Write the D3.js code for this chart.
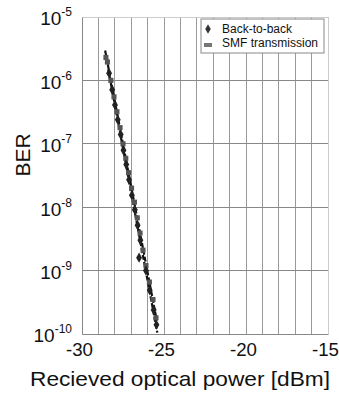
<!DOCTYPE html>
<html>
<head>
<meta charset="utf-8">
<script src="https://cdn.jsdelivr.net/npm/d3@7"></script>
<style>
  body { margin: 0; background: #fff; }
  svg { display: block; font-family: "Liberation Sans", Arial, sans-serif; }
</style>
</head>
<body>
<script>
// received power [dBm] and BER
const b2bPower = [-28.35, -28.16, -27.99, -27.82, -27.64, -27.47, -27.30, -27.13, -26.96, -26.78, -26.61, -26.44, -26.52, -26.10, -25.87, -25.63, -25.46]
const b2bBer = [1.3e-6, 7.1e-7, 4.1e-7, 2.4e-7, 1.4e-7, 7.9e-8, 4.7e-8, 2.7e-8, 1.55e-8, 9.1e-9, 5.2e-9, 3.0e-9, 1.6e-9, 1.0e-9, 4.9e-10, 2.4e-10, 1.4e-10]
const smfPower = [-28.54, -28.45, -28.24, -28.05, -27.87, -27.68, -27.50, -27.33, -27.16, -26.98, -26.80, -26.63, -26.46, -26.28, -26.10, -25.89, -25.67, -25.49]
const smfBer = [2.3e-6, 1.95e-6, 1.0e-6, 5.5e-7, 3.2e-7, 1.8e-7, 1.0e-7, 5.9e-8, 3.5e-8, 2.0e-8, 1.2e-8, 6.8e-9, 3.9e-9, 2.1e-9, 1.2e-9, 6.6e-10, 3.5e-10, 1.8e-10]

const xTicks = [-30, -25, -20, -15]
const yExponents = [-5, -6, -7, -8, -9, -10]
const legendLabels = ['Back-to-back', 'SMF transmission']

const width = 339, height = 396
const margin = {top: 17, right: 11, bottom: 62, left: 82}

const svg = d3.select('body').append('svg')
    .attr('width', width)
    .attr('height', height)

const x = d3.scaleLinear().domain([-30, -15]).range([margin.left, width - margin.right])
const y = d3.scaleLog().domain([1e-10, 1e-5]).range([height - margin.bottom, margin.top])

// grid
const grid = svg.append('g').attr('stroke-width', 1).attr('shape-rendering', 'crispEdges')
grid.selectAll('line.v')
    .data(d3.range(-29, -14))
    .join('line')
    .attr('class', 'v')
    .attr('stroke', d => d === -15 ? '#ccc' : '#999')
    .attr('x1', d => x(d)).attr('x2', d => x(d))
    .attr('y1', y(1e-5)).attr('y2', y(1e-10))
grid.selectAll('line.h')
    .data(yExponents.slice(1, -1))
    .join('line')
    .attr('class', 'h')
    .attr('stroke', '#888')
    .attr('x1', x(-30)).attr('x2', x(-15))
    .attr('y1', d => y(Math.pow(10, d))).attr('y2', d => y(Math.pow(10, d)))
svg.append('line')
    .attr('x1', x(-30)).attr('x2', x(-15))
    .attr('y1', y(1e-5)).attr('y2', y(1e-5))
    .attr('stroke', '#ccc').attr('shape-rendering', 'crispEdges')

// axes
const xAxis = svg.append('g')
    .attr('transform', `translate(0,${y(1e-10)})`)
    .call(d3.axisBottom(x).tickValues(xTicks).tickSize(0).tickPadding(8).tickFormat(d => String(d)))
xAxis.select('.domain').attr('stroke', '#888')
xAxis.selectAll('text')
    .attr('font-size', 18)
    .attr('fill', '#111')
    .attr('dx', -3)
    .attr('dy', '0.78em')
    .attr('textLength', 27)
    .attr('lengthAdjust', 'spacingAndGlyphs')

const yAxis = svg.append('g')
    .attr('transform', `translate(${x(-30)},0)`)
    .call(d3.axisLeft(y).tickValues(yExponents.map(e => Math.pow(10, e))).tickSize(0).tickFormat(() => ''))
yAxis.select('.domain').attr('stroke', '#888')
yAxis.selectAll('.tick').each(function (d) {
    const t = d3.select(this).append('text')
        .attr('x', -10).attr('dy', '0.42em')
        .attr('text-anchor', 'end')
        .attr('fill', '#111')
        .attr('font-size', 19)
    t.append('tspan').text('10')
    t.append('tspan').attr('font-size', 12).attr('dy', '-0.75em').text(Math.round(Math.log10(d)))
})

// fit lines (least squares in log domain)
function fit(px, py) {
    const ly = py.map(Math.log10)
    const mx = d3.mean(px), my = d3.mean(ly)
    const k = d3.sum(px, (v, i) => (v - mx) * (ly[i] - my)) / d3.sum(px, v => (v - mx) ** 2)
    return v => Math.pow(10, my + k * (v - mx))
}
const line = d3.line().x(d => x(d[0])).y(d => y(d[1]))
;[[smfPower, smfBer], [b2bPower, b2bBer]].forEach(([px, py]) => {
    const f = fit(px, py)
    const ends = [d3.min(px) - 0.05, d3.max(px) + 0.05]
    svg.append('path')
        .attr('d', line(ends.map(v => [v, f(v)])))
        .attr('fill', 'none')
        .attr('stroke', '#111')
        .attr('stroke-width', 2.2)
        .attr('stroke-dasharray', '5,2')
})

// markers
const square = d3.symbol(d3.symbolSquare, 26)
const diamond = d3.symbol(d3.symbolDiamond, 30)
svg.append('g').selectAll('path')
    .data(smfPower.map((p, i) => [p, smfBer[i]]))
    .join('path')
    .attr('transform', d => `translate(${x(d[0])},${y(d[1])})`)
    .attr('d', square)
    .attr('fill', '#555')
svg.append('g').selectAll('path')
    .data(b2bPower.map((p, i) => [p, b2bBer[i]]))
    .join('path')
    .attr('transform', d => `translate(${x(d[0])},${y(d[1])})`)
    .attr('d', diamond)
    .attr('fill', '#222')

// legend
const lg = svg.append('g').attr('transform', 'translate(201,19)')
lg.append('rect')
    .attr('width', 123).attr('height', 34)
    .attr('fill', '#fff').attr('stroke', '#888')
lg.append('path').attr('d', d3.symbol(d3.symbolDiamond, 26)).attr('transform', 'translate(7,10)').attr('fill', '#333')
lg.append('rect').attr('x', 3).attr('y', 24).attr('width', 8).attr('height', 4).attr('fill', '#777')
lg.selectAll('text')
    .data(legendLabels)
    .join('text')
    .attr('x', 21)
    .attr('y', (d, i) => 14 + i * 14)
    .attr('font-size', 12)
    .attr('fill', '#111')
    .text(d => d)

// axis titles
svg.append('text')
    .attr('transform', `translate(30,155) rotate(-90)`)
    .attr('text-anchor', 'middle')
    .attr('font-size', 21)
    .attr('fill', '#111')
    .text('BER')
svg.append('text')
    .attr('x', 180).attr('y', 386)
    .attr('text-anchor', 'middle')
    .attr('font-size', 21)
    .attr('fill', '#111')
    .attr('textLength', 300)
    .attr('lengthAdjust', 'spacingAndGlyphs')
    .text('Recieved optical power [dBm]')
</script>
</body>
</html>
